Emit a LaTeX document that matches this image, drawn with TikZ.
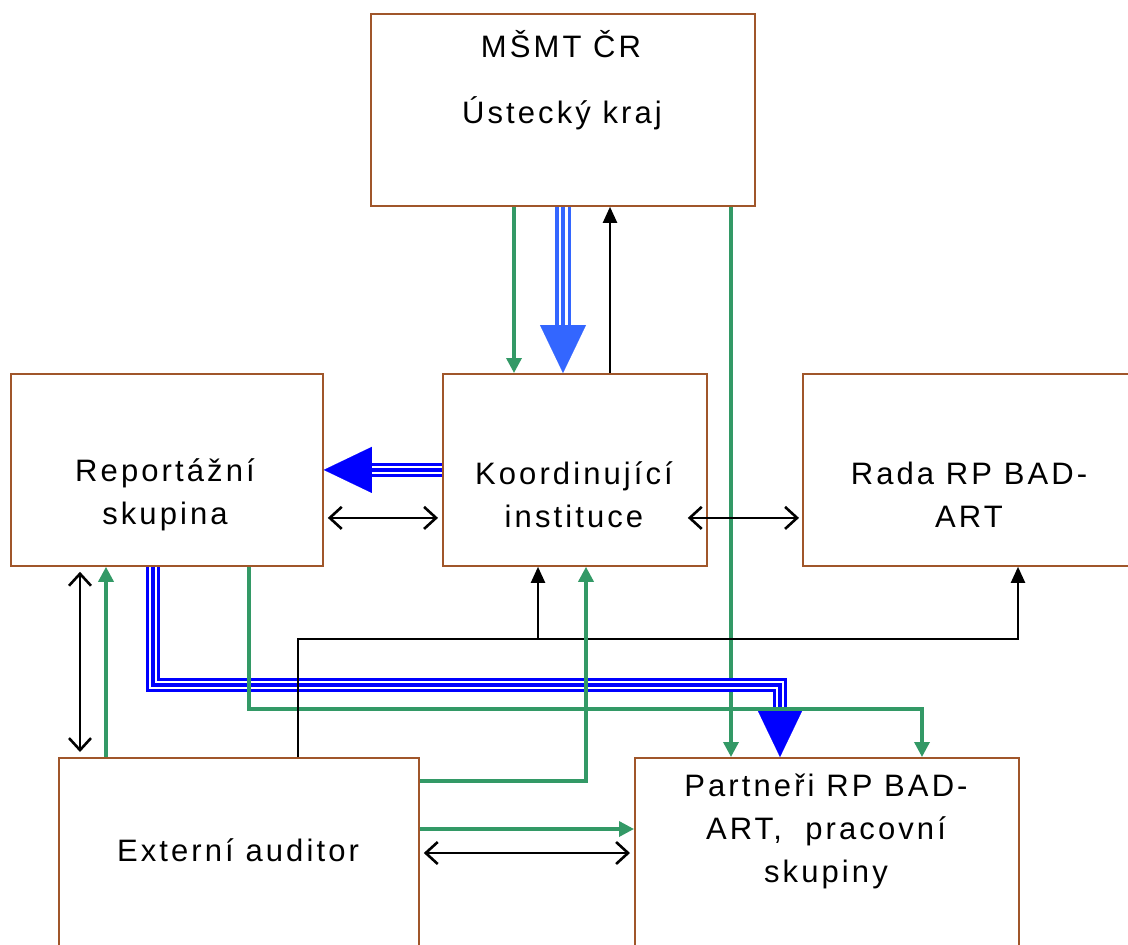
\documentclass[tikz,border=0pt]{standalone}
\usepackage{fontspec}
\newfontfamily\labfont[LetterSpace=10]{Liberation Sans}
\usetikzlibrary{arrows.meta}
\definecolor{boxbrown}{HTML}{A0562A}
\definecolor{grn}{HTML}{339966}
\definecolor{blueA}{HTML}{3366FF}
\definecolor{blueB}{HTML}{0000FF}
\tikzset{
  x=1pt, y=-1pt,
  box/.style={draw=boxbrown, line width=1.8pt, inner sep=0pt, anchor=north west, fill=none},
  lab/.style={font=\labfont\fontsize{31}{43}\selectfont, align=center, inner sep=0pt},
  garrow/.style={draw=grn, line width=3.4pt, -{Triangle[length=15pt,width=15pt]}},
  karrow/.style={draw=black, line width=2.2pt, -{Triangle[length=16pt,width=14pt]}},
  kdouble/.style={draw=black, line width=2.3pt, {Straight Barb[length=12pt,width=22pt,line width=2.6pt]}-{Straight Barb[length=12pt,width=22pt,line width=2.6pt]}},
  triA/.style={draw=blueA, line width=16pt, postaction={draw=white, line width=9pt}, postaction={draw=blueA, line width=3.5pt}},
  triB/.style={draw=blueB, line width=13.5pt, postaction={draw=white, line width=7.5pt}, postaction={draw=blueB, line width=4pt}},
  headA/.style={draw=blueA, line width=0.1pt, -{Triangle[length=48pt,width=46pt]}, fill=blueA},
  headB/.style={draw=blueB, line width=0.1pt, -{Triangle[length=48pt,width=46pt]}, fill=blueB},
}
\begin{document}
\begin{tikzpicture}
\useasboundingbox (0,0) rectangle (1128,945);
\clip (0,0) rectangle (1128,945);
\fill[white] (0,0) rectangle (1128,945);

% boxes
\node[box, minimum width=384pt, minimum height=192pt] (ms) at (370,13) {};
\node[box, minimum width=312pt, minimum height=192pt] (rep) at (10,373) {};
\node[box, minimum width=264pt, minimum height=192pt] (kor) at (442,373) {};
\node[box, minimum width=340pt, minimum height=192pt] (rada) at (802,373) {};
\node[box, minimum width=360pt, minimum height=220pt] (ext) at (58,757) {};
\node[box, minimum width=384pt, minimum height=220pt] (par) at (634,757) {};

% texts
\node[lab] (ms1) at (561,44) {MŠMT ČR};
\node[lab] (ms2) at (562,113) {Ústecký kraj};
\node[lab] (rept) at (165,495) {Reportážní\\skupina};
\node[lab] (kort) at (574,495) {Koordinující\\instituce};
\node[lab] (radat) at (969,495) {Rada RP BAD-\\ART};
\node[lab] (extt) at (238,850) {Externí auditor};
\node[lab] (part) at (826,831) {Partneři RP BAD-\\ART,\ \ pracovní\\skupiny};

% MSMT <-> Koordinujici
\draw[garrow] ([xshift=144pt]ms.south west) -- ([xshift=72pt]kor.north west);
\draw[triA] ([xshift=193pt]ms.south west) -- ([xshift=121pt,yshift=46pt]kor.north west);
\draw[headA] ([xshift=121pt,yshift=48pt]kor.north west) -- ([xshift=121pt]kor.north west);
\draw[karrow] ([xshift=168pt]kor.north west) -- ([xshift=240pt]ms.south west);
\draw[garrow] ([xshift=361pt]ms.south west) -- ([xshift=97pt]par.north west);

% Koordinujici -> Reportazni
\draw[triB] (kor.west) -- ([xshift=46pt]rep.east);
\draw[headB] ([xshift=48pt]rep.east) -- (rep.east);
\draw[kdouble] ([xshift=4pt,yshift=-48pt]rep.east) -- ([xshift=-4pt,yshift=-48pt]kor.west);
\draw[kdouble] ([xshift=-20pt,yshift=-48pt]kor.east) -- ([xshift=-3pt,yshift=-48pt]rada.west);

% Reportazni <-> Externi
\draw[kdouble] ([xshift=70pt,yshift=-5pt]rep.south west) -- ([xshift=22pt,yshift=5pt]ext.north west);
\draw[garrow] ([xshift=48pt]ext.north west) -- ([xshift=96pt]rep.south west);

% Reportazni -> Partneri (triple)
\draw[triB] ([xshift=143pt]rep.south west) |- ([xshift=146pt,yshift=72pt]par.north west) -- ([xshift=146pt,yshift=46pt]par.north west);
\draw[headB] ([xshift=146pt,yshift=48pt]par.north west) -- ([xshift=146pt]par.north west);

% Reportazni -> Partneri (green)
\draw[garrow] ([xshift=239pt]rep.south west) |- ([xshift=288pt,yshift=48pt]par.north west) -- ([xshift=288pt]par.north west);

% Externi -> Koordinujici, Rada (black)
\coordinate (jn) at ([xshift=96pt,yshift=-72pt]kor.south west);
\draw[karrow] ([xshift=240pt]ext.north west) |- ([xshift=216pt,yshift=-72pt]rada.south west) -- ([xshift=216pt]rada.south west);
\draw[karrow] (jn) -- ([xshift=96pt]kor.south west);

% Externi -> Koordinujici (green)
\draw[garrow] ([yshift=-24pt]ext.north east) -| ([xshift=144pt]kor.south west);

% Externi -> Partneri
\draw[garrow] ([yshift=-72pt]ext.north east) -- ([yshift=-72pt]par.north west);
\draw[kdouble] ([xshift=4pt,yshift=-96pt]ext.north east) -- ([xshift=-4pt,yshift=-96pt]par.north west);
\end{tikzpicture}
\end{document}
